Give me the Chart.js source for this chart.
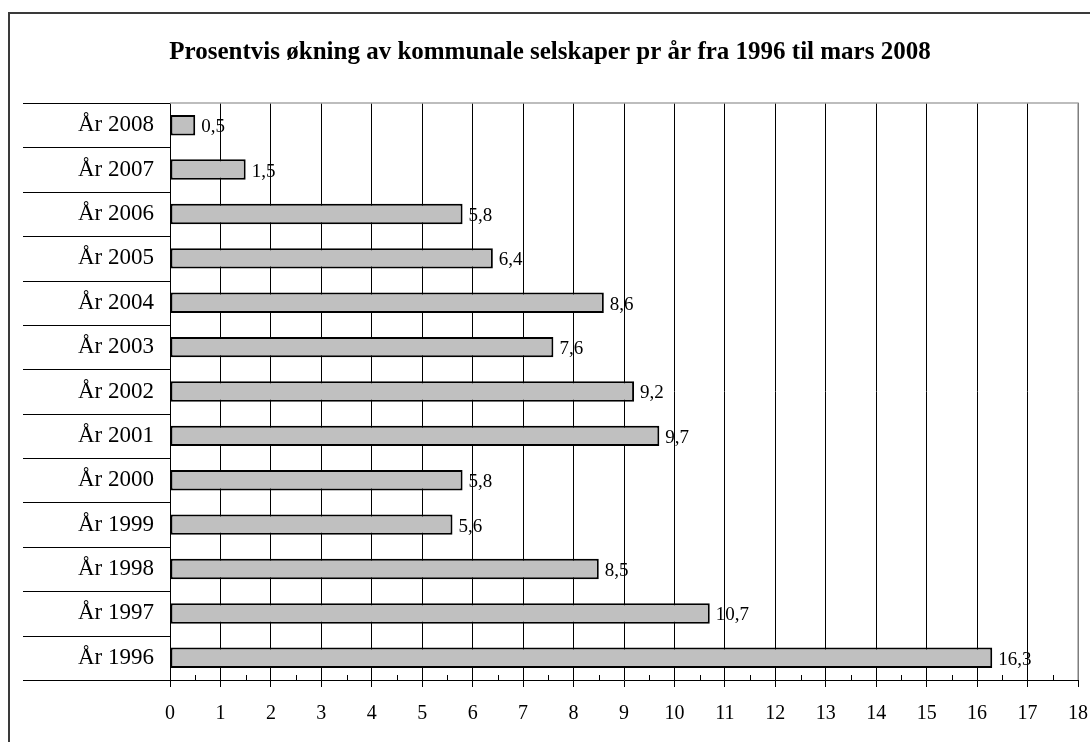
<!DOCTYPE html>
<html>
<head>
<meta charset="utf-8">
<script src="https://cdn.jsdelivr.net/npm/chart.js@4.4.1/dist/chart.umd.min.js"></script>
<style>
  html, body { margin: 0; padding: 0; background: #fff; }
  #wrap { position: relative; width: 1090px; height: 742px; }
</style>
</head>
<body>
<div id="wrap"><canvas id="growthChart" width="1090" height="742"></canvas></div>
<script>
// Prosentvis økning av kommunale selskaper, 1996 - mars 2008

const years = ['År 2008', 'År 2007', 'År 2006', 'År 2005', 'År 2004', 'År 2003', 'År 2002',
               'År 2001', 'År 2000', 'År 1999', 'År 1998', 'År 1997', 'År 1996'];
const growth = [0.5, 1.5, 5.8, 6.4, 8.6, 7.6, 9.2, 9.7, 5.8, 5.6, 8.5, 10.7, 16.3];
const axisMin = 0;
const axisMax = 18;

const serif = '"Liberation Serif", "Times New Roman", serif';

// frame round the whole chart + light border on top/right of plot
const framePlugin = {
  id: 'frame',
  beforeDraw(chart) {
    const c = chart.ctx;
    c.save();
    c.fillStyle = '#fff';
    c.fillRect(0, 0, chart.width, chart.height);
    c.strokeStyle = '#3a3a3a';
    c.lineWidth = 2;
    c.strokeRect(9, 13, chart.width + 20, chart.height + 20);
    c.restore();
  },
  afterDraw(chart) {
    const c = chart.ctx;
    const a = chart.chartArea;
    c.save();
    c.strokeStyle = '#a8a8a8';
    c.lineWidth = 1.5;
    c.beginPath();
    c.moveTo(a.left, a.top);
    c.lineTo(a.right, a.top);
    c.lineTo(a.right, a.bottom);
    c.stroke();
    c.restore();
  }
};

// category separators in the label area and half-step ticks on the x axis
const axisExtras = {
  id: 'axisExtras',
  afterDraw(chart) {
    const c = chart.ctx;
    const a = chart.chartArea;
    const y = chart.scales.y;
    const x = chart.scales.x;
    c.save();
    c.strokeStyle = '#000';
    c.lineWidth = 1;
    c.beginPath();
    for (let i = 0; i <= years.length; i++) {
      const py = Math.round(y.getPixelForValue(i - 0.5)) + 0.5;
      c.moveTo(23, py);
      c.lineTo(a.left, py);
    }
    for (let v = axisMin + 0.5; v < axisMax; v += 1) {
      const px = Math.round(x.getPixelForValue(v)) + 0.5;
      c.moveTo(px, a.bottom - 5);
      c.lineTo(px, a.bottom);
    }
    c.stroke();
    c.restore();
  }
};

// value text at the end of each bar
const valueLabels = {
  id: 'valueLabels',
  afterDatasetsDraw(chart) {
    const c = chart.ctx;
    const meta = chart.getDatasetMeta(0);
    c.save();
    c.font = '19px ' + serif;
    c.fillStyle = '#000';
    c.textAlign = 'left';
    c.textBaseline = 'middle';
    meta.data.forEach((bar, i) => {
      c.fillText(String(growth[i]).replace('.', ','), bar.x + 6, bar.y + 2);
    });
    c.restore();
  }
};

new Chart(document.getElementById('growthChart'), {
  type: 'bar',
  data: {
    labels: years,
    datasets: [{
      data: growth,
      backgroundColor: '#c0c0c0',
      borderColor: '#000',
      borderWidth: 2,
      borderSkipped: false,
      categoryPercentage: 1,
      barPercentage: 0.46
    }]
  },
  options: {
    indexAxis: 'y',
    responsive: false,
    animation: false,
    layout: { padding: { left: 22, right: 12, top: 0, bottom: 0 } },
    plugins: {
      legend: { display: false },
      tooltip: { enabled: false },
      title: {
        display: true,
        text: 'Prosentvis økning av kommunale selskaper pr år fra 1996 til mars 2008',
        color: '#000',
        font: { family: serif, size: 25, weight: 'bold' },
        padding: { top: 38, bottom: 35 }
      }
    },
    scales: {
      x: {
        min: axisMin,
        max: axisMax,
        afterFit(scale) {
          scale.height = 62;
          scale.paddingRight = 0;
        },
        ticks: {
          stepSize: 1,
          color: '#000',
          padding: 15,
          font: { family: serif, size: 20 }
        },
        grid: {
          color: '#000',
          lineWidth: 1,
          tickColor: '#000',
          tickLength: 7
        },
        border: { color: '#000', width: 1 }
      },
      y: {
        afterFit(scale) { scale.width = 148; },
        ticks: {
          color: '#000',
          padding: 8,
          font: { family: serif, size: 23 }
        },
        grid: { display: false },
        border: { color: '#000', width: 1 }
      }
    }
  },
  plugins: [framePlugin, axisExtras, valueLabels]
});
</script>
</body>
</html>
